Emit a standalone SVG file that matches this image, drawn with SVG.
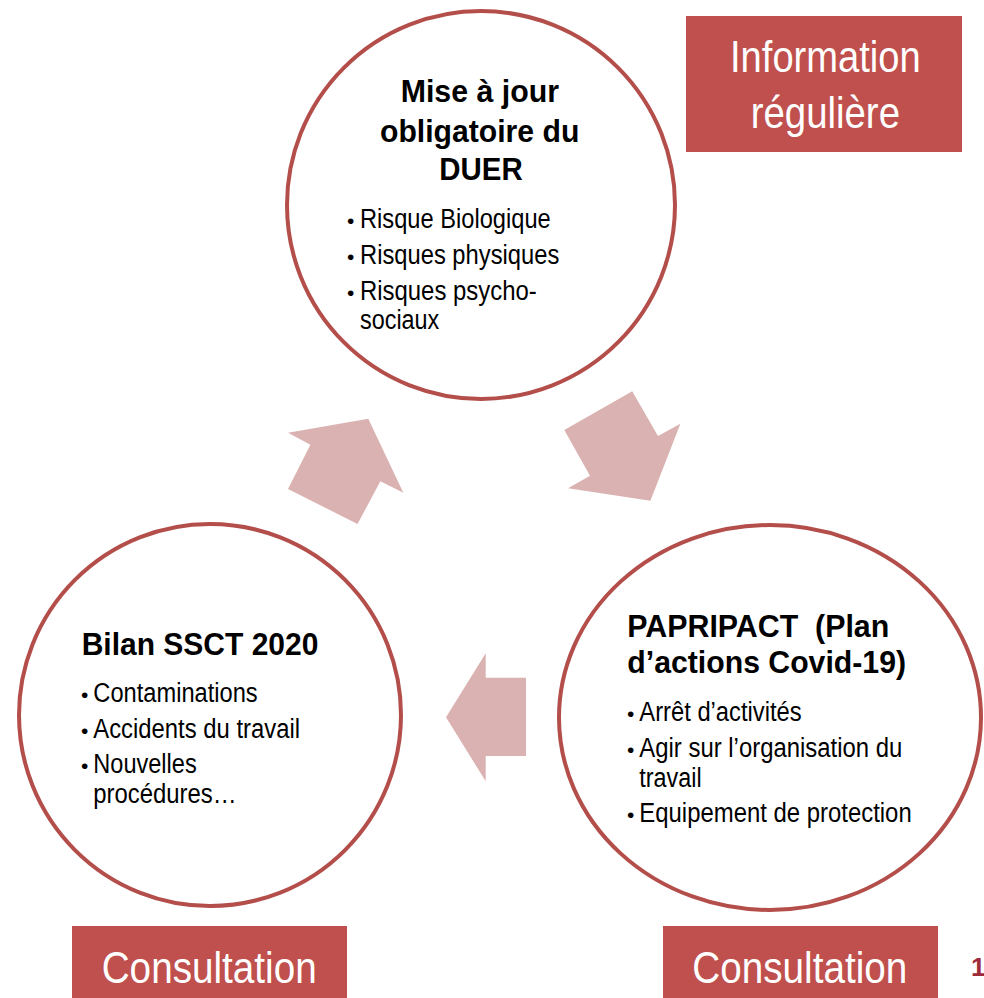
<svg xmlns="http://www.w3.org/2000/svg" width="984" height="998" viewBox="0 0 984 998">
<style>
.ring{fill:#FFFFFF;stroke:#B34E4A;stroke-width:4}
.box{fill:#C0504D}
.arrow{fill:#DBB2B2}
.title{font-family:"Liberation Sans",Arial,sans-serif;font-weight:bold;font-size:32px;fill:#000000}
.item{font-family:"Liberation Sans",Arial,sans-serif;font-size:27px;fill:#000000}
.bul{font-family:"Liberation Sans",Arial,sans-serif;font-size:21px;fill:#000000}
.lbl{font-family:"Liberation Sans",Arial,sans-serif;font-size:45px;fill:#FFFFFF}
.num{font-family:"Liberation Sans",Arial,sans-serif;font-weight:bold;font-size:26px;fill:#9E2A3A}
</style>
<rect width="984" height="998" fill="#FFFFFF"/>

<g id="connectors">
<polygon class="arrow" points="288,432.7 368.3,418.8 403.3,492.7 380.4,481.3 357.5,524 288,489 310.4,444.8"/>
<polygon class="arrow" points="564.3,430 632.2,391.2 658,436 680.4,423.8 650.4,500.8 568,488.3 590,475.7"/>
<polygon class="arrow" points="446,717.3 485.7,653.3 485.7,677.7 526,677.7 526,756 485.7,756 485.7,781.3"/>
</g>

<g id="node-duer">
<circle class="ring" cx="481" cy="205" r="194"/>
<text class="title" x="400.7" y="102" textLength="158.3" lengthAdjust="spacingAndGlyphs">Mise à jour</text>
<text class="title" x="380" y="141.5" textLength="199.3" lengthAdjust="spacingAndGlyphs">obligatoire du</text>
<text class="title" x="439.3" y="180" textLength="83.4" lengthAdjust="spacingAndGlyphs">DUER</text>
<text class="bul" x="347" y="227.5">•</text>
<text class="item" x="360" y="227.5" textLength="190.7" lengthAdjust="spacingAndGlyphs">Risque Biologique</text>
<text class="bul" x="347" y="263.5">•</text>
<text class="item" x="360" y="263.5" textLength="199.3" lengthAdjust="spacingAndGlyphs">Risques physiques</text>
<text class="bul" x="347" y="299.5">•</text>
<text class="item" x="360" y="299.5" textLength="176.7" lengthAdjust="spacingAndGlyphs">Risques psycho-</text>
<text class="item" x="360" y="328.5" textLength="79.3" lengthAdjust="spacingAndGlyphs">sociaux</text>
</g>

<g id="node-paripact">
<ellipse class="ring" cx="770" cy="717.5" rx="211" ry="192.5"/>
<text class="title" x="627.3" y="636.7" xml:space="preserve" textLength="262" lengthAdjust="spacingAndGlyphs">PAPRIPACT  (Plan</text>
<text class="title" x="627.3" y="673.3" textLength="278.7" lengthAdjust="spacingAndGlyphs">d’actions Covid-19)</text>
<text class="bul" x="627" y="721">•</text>
<text class="item" x="639.3" y="721" textLength="162.4" lengthAdjust="spacingAndGlyphs">Arrêt d’activités</text>
<text class="bul" x="627" y="756.7">•</text>
<text class="item" x="639.3" y="756.7" textLength="263" lengthAdjust="spacingAndGlyphs">Agir sur l’organisation du</text>
<text class="item" x="639.3" y="786.7" textLength="62.4" lengthAdjust="spacingAndGlyphs">travail</text>
<text class="bul" x="627" y="821.7">•</text>
<text class="item" x="639.3" y="821.7" textLength="272.4" lengthAdjust="spacingAndGlyphs">Equipement de protection</text>
</g>

<g id="node-bilan">
<circle class="ring" cx="210" cy="715" r="191"/>
<text class="title" x="81.7" y="655" textLength="236.7" lengthAdjust="spacingAndGlyphs">Bilan SSCT 2020</text>
<text class="bul" x="81" y="702.3">•</text>
<text class="item" x="93.3" y="702.3" textLength="164.4" lengthAdjust="spacingAndGlyphs">Contaminations</text>
<text class="bul" x="81" y="737.7">•</text>
<text class="item" x="93.3" y="737.7" textLength="206.7" lengthAdjust="spacingAndGlyphs">Accidents du travail</text>
<text class="bul" x="81" y="773.3">•</text>
<text class="item" x="93.3" y="773.3" textLength="103.4" lengthAdjust="spacingAndGlyphs">Nouvelles</text>
<text class="item" x="93.3" y="803.3" textLength="143.4" lengthAdjust="spacingAndGlyphs">procédures…</text>
</g>

<g id="label-information">
<rect class="box" x="686" y="16" width="276" height="136"/>
<text class="lbl" x="730" y="71.7" textLength="190.7" lengthAdjust="spacingAndGlyphs">Information</text>
<text class="lbl" x="750.7" y="128.3" textLength="149.3" lengthAdjust="spacingAndGlyphs">régulière</text>
</g>

<g id="label-consultation-left">
<rect class="box" x="72" y="926" width="275" height="72"/>
<text class="lbl" x="101.7" y="983.3" textLength="215" lengthAdjust="spacingAndGlyphs">Consultation</text>
</g>

<g id="label-consultation-right">
<rect class="box" x="663" y="926" width="275" height="72"/>
<text class="lbl" x="692.3" y="983.3" textLength="215" lengthAdjust="spacingAndGlyphs">Consultation</text>
</g>

<g id="page-number">
<text class="num" x="971" y="976">1</text>
</g>
</svg>
